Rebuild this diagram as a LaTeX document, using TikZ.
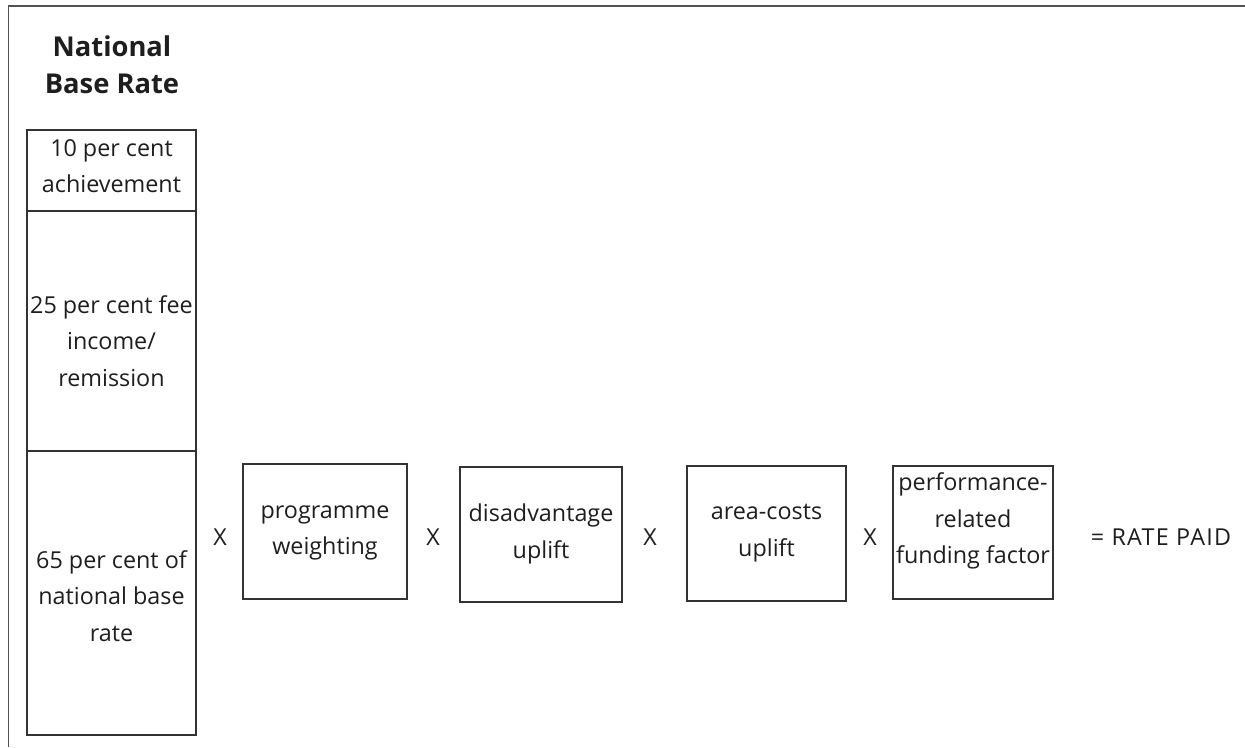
\documentclass[tikz,border=0pt]{standalone}
\usepackage{fontspec}
\setmainfont{Open Sans}
\definecolor{ink}{HTML}{1E1E1E}
\definecolor{rule}{HTML}{333333}
\begin{document}
\begin{tikzpicture}[x=0.75pt,y=-0.75pt,
  frame/.style={draw=rule!85,line width=0.9pt},
  cell/.style={draw=rule,line width=1pt,inner sep=0pt,outer sep=0pt},
  txt/.style={text=ink,align=center,inner sep=0pt,font=\fontsize{17.5}{27.5}\selectfont},
  ttl/.style={text=ink,align=center,inner sep=0pt,font=\fontsize{20.5}{27.8}\selectfont\bfseries},
  op/.style={text=ink,inner sep=0pt,font=\fontsize{17.5}{20}\selectfont}]
\useasboundingbox (0,0) rectangle (1245,747);
% outer frame (left and top only)
\coordinate (fTL) at (8.5,6);
\coordinate (fBL) at (8.5,747);
\coordinate (fTR) at (1245,6);
\draw[frame] (fBL) -- (fTL) -- (fTR);
% title
\node[ttl] (title) at (112,65) {National\\Base Rate};
% left column
\node[cell,minimum width=126.75pt,minimum height=60.75pt] (c1) at (111.5,170.5) {};
\node[cell,minimum width=126.75pt,minimum height=180pt] (c2) at (111.5,331) {};
\node[cell,minimum width=126.75pt,minimum height=213pt] (c3) at (111.5,593) {};
\node[txt] (t1) at (111.5,166) {10 per cent\\achievement};
\node[txt] (t2) at (111.5,341) {25 per cent fee\\income/\\remission};
\node[txt] (t3) at (111.5,596) {65 per cent of\\national base\\rate};
% factor boxes
\node[cell,minimum width=123pt,minimum height=101.25pt] (b1) at (325,531.5) {};
\node[cell,minimum width=121.5pt,minimum height=101.25pt] (b2) at (541,534.5) {};
\node[cell,minimum width=119.25pt,minimum height=101.25pt] (b3) at (766.5,533.5) {};
\node[cell,minimum width=120pt,minimum height=99.75pt] (b4) at (973,532.5) {};
\node[txt] (u1) at (325,533) {programme\\weighting};
\node[txt] (u2) at (541,534) {disadvantage\\uplift};
\node[txt] (u3) at (766.5,533) {area-costs\\uplift};
\node[txt] (u4) at (973,521) {performance-\\related\\funding factor};
% operators
\node[op] (x1) at (220,537) {X};
\node[op] (x2) at (433,537) {X};
\node[op] (x3) at (650,537) {X};
\node[op] (x4) at (870,537) {X};
\node[op,font=\fontsize{17.5}{20}\selectfont\addfontfeatures{LetterSpace=5.5}] (res) at (1161,537) {= RATE PAID};
\end{tikzpicture}
\end{document}
